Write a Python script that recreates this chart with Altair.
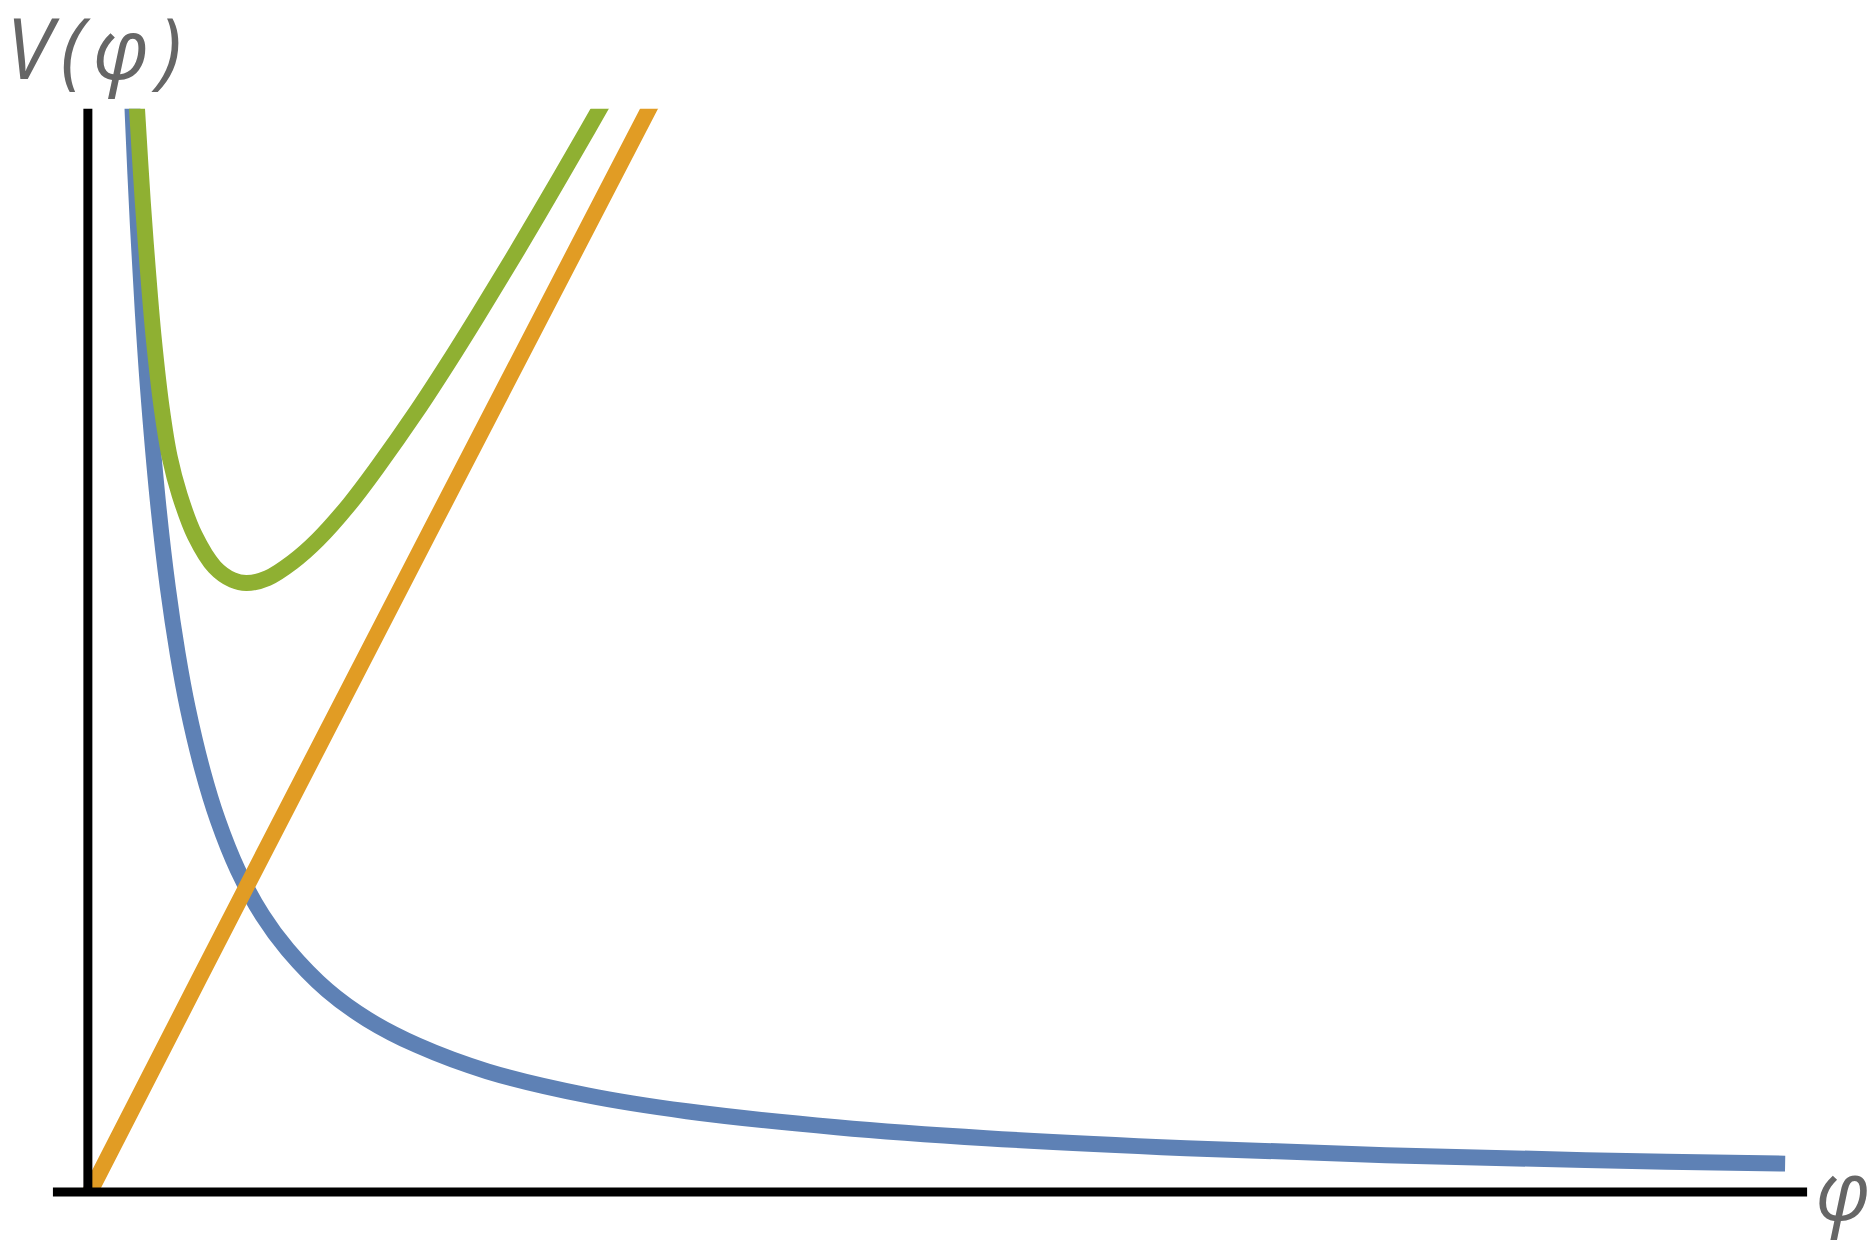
import altair as alt
import pandas as pd

# Blue curve (decaying term)
blue_phi = [0.42, 0.45, 0.50, 0.55, 0.60, 0.70, 0.80, 0.90, 1.00, 1.15, 1.30, 1.50,
            1.75, 2.00, 2.40, 2.80, 3.30, 4.00, 5.00, 6.00, 7.50, 9.00, 11.0, 13.0,
            15.0, 17.0]
blue_v = [11.55, 10.78, 9.70, 8.82, 8.08, 6.93, 6.06, 5.39, 4.85, 4.22, 3.73, 3.23,
          2.77, 2.43, 2.02, 1.73, 1.47, 1.21, 0.97, 0.81, 0.65, 0.54, 0.44, 0.37,
          0.32, 0.285]

# Orange line (linear term)
orange_phi = [0.02, 1.60, 5.62, 5.86]
orange_v = [0.0, 3.08, 10.85, 11.3]

# Green curve (sum)
green_phi = [0.46, 0.50, 0.55, 0.60, 0.66, 0.74, 0.82, 0.92, 1.07, 1.27, 1.45, 1.59,
             1.80, 2.05, 2.30, 2.62, 2.90, 3.30, 3.60, 3.90, 4.30, 4.74, 5.12, 5.49]
green_v = [11.39, 10.72, 9.92, 9.25, 8.55, 7.85, 7.36, 6.98, 6.58, 6.26, 6.13, 6.10,
           6.15, 6.31, 6.53, 6.89, 7.26, 7.83, 8.29, 8.77, 9.43, 10.18, 10.84, 11.49]

x_domain = [-0.35, 17.22]
y_domain = [0.0, 10.85]

blue_df = pd.DataFrame({"phi": blue_phi, "V": blue_v})
orange_df = pd.DataFrame({"phi": orange_phi, "V": orange_v})
green_df = pd.DataFrame({"phi": green_phi, "V": green_v})

xs = alt.Scale(domain=x_domain, nice=False, zero=False)
ys = alt.Scale(domain=y_domain, nice=False, zero=False)

def curve(df, color):
    return alt.Chart(df).mark_line(
        color=color, strokeWidth=16, clip=True, interpolate="catmull-rom", strokeCap="butt"
    ).encode(
        x=alt.X("phi:Q", scale=xs, axis=None),
        y=alt.Y("V:Q", scale=ys, axis=None),
        order="phi:Q",
    )

blue = curve(blue_df, "#5E81B5")
orange = curve(orange_df, "#E19C24")
green = curve(green_df, "#8FB032")

yaxis_df = pd.DataFrame({"phi": [0.0], "V0": [y_domain[0]], "V1": [y_domain[1]]})
yaxis = alt.Chart(yaxis_df).mark_rule(color="black", strokeWidth=9).encode(
    x=alt.X("phi:Q", scale=xs, axis=None),
    y=alt.Y("V0:Q", scale=ys, axis=None),
    y2="V1:Q",
)
xaxis_df = pd.DataFrame({"p0": [x_domain[0]], "p1": [x_domain[1]], "V": [0.0]})
xaxis = alt.Chart(xaxis_df).mark_rule(color="black", strokeWidth=9).encode(
    x=alt.X("p0:Q", scale=xs, axis=None),
    x2="p1:Q",
    y=alt.Y("V:Q", scale=ys, axis=None),
)

ylab = alt.Chart(pd.DataFrame({"t": ["V\u200a(\u200aφ\u200a)"]})).mark_text(
    font="Open Sans", fontStyle="italic", fontSize=84, color="#666666",
    align="left", baseline="alphabetic"
).encode(text="t:N", x=alt.value(-47), y=alt.value(-30))

xlab = alt.Chart(pd.DataFrame({"t": ["φ"]})).mark_text(
    font="Open Sans", fontStyle="italic", fontSize=82, color="#666666",
    align="center", baseline="alphabetic"
).encode(text="t:N", x=alt.value(1793), y=alt.value(1113))

chart = alt.layer(blue, orange, green, yaxis, xaxis, ylab, xlab).properties(
    width=1757, height=1085,
    padding={"left": 45, "top": 100, "right": 60, "bottom": 50},
    autosize=alt.AutoSizeParams(type="none"),
    background="white",
).configure_view(stroke=None)

chart.save("out.html", embed_options={"renderer": "svg", "actions": False})
